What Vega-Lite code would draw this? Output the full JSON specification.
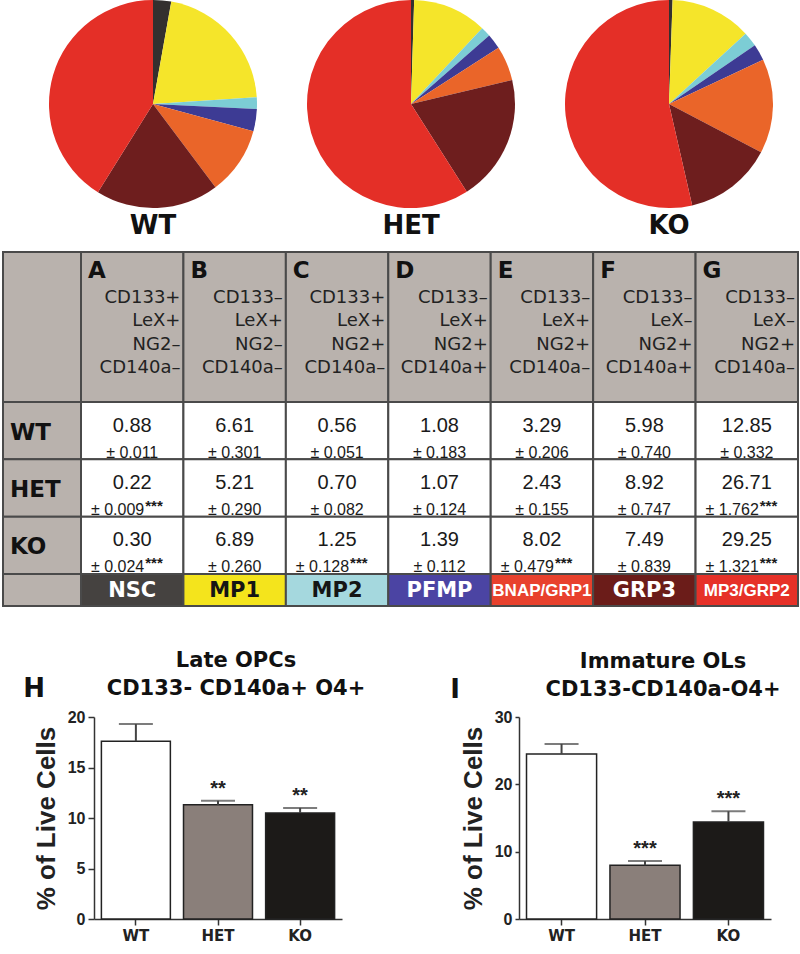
{
  "$schema": "https://vega.github.io/schema/vega-lite/v6.json",
  "background": "white",
  "padding": {"left": 2, "top": 0, "right": 0, "bottom": 0},
  "config": {"view": {"stroke": null}, "font": "Liberation Sans"},
  "datasets": {
    "pops": [
      {"genotype": "WT", "col": "A", "population": "NSC", "mean": 0.88, "sd": "± 0.011", "sig": ""},
      {"genotype": "WT", "col": "B", "population": "MP1", "mean": 6.61, "sd": "± 0.301", "sig": ""},
      {"genotype": "WT", "col": "C", "population": "MP2", "mean": 0.56, "sd": "± 0.051", "sig": ""},
      {"genotype": "WT", "col": "D", "population": "PFMP", "mean": 1.08, "sd": "± 0.183", "sig": ""},
      {"genotype": "WT", "col": "E", "population": "BNAP/GRP1", "mean": 3.29, "sd": "± 0.206", "sig": ""},
      {"genotype": "WT", "col": "F", "population": "GRP3", "mean": 5.98, "sd": "± 0.740", "sig": ""},
      {"genotype": "WT", "col": "G", "population": "MP3/GRP2", "mean": 12.85, "sd": "± 0.332", "sig": ""},
      {"genotype": "HET", "col": "A", "population": "NSC", "mean": 0.22, "sd": "± 0.009", "sig": "***"},
      {"genotype": "HET", "col": "B", "population": "MP1", "mean": 5.21, "sd": "± 0.290", "sig": ""},
      {"genotype": "HET", "col": "C", "population": "MP2", "mean": 0.70, "sd": "± 0.082", "sig": ""},
      {"genotype": "HET", "col": "D", "population": "PFMP", "mean": 1.07, "sd": "± 0.124", "sig": ""},
      {"genotype": "HET", "col": "E", "population": "BNAP/GRP1", "mean": 2.43, "sd": "± 0.155", "sig": ""},
      {"genotype": "HET", "col": "F", "population": "GRP3", "mean": 8.92, "sd": "± 0.747", "sig": ""},
      {"genotype": "HET", "col": "G", "population": "MP3/GRP2", "mean": 26.71, "sd": "± 1.762", "sig": "***"},
      {"genotype": "KO", "col": "A", "population": "NSC", "mean": 0.30, "sd": "± 0.024", "sig": "***"},
      {"genotype": "KO", "col": "B", "population": "MP1", "mean": 6.89, "sd": "± 0.260", "sig": ""},
      {"genotype": "KO", "col": "C", "population": "MP2", "mean": 1.25, "sd": "± 0.128", "sig": "***"},
      {"genotype": "KO", "col": "D", "population": "PFMP", "mean": 1.39, "sd": "± 0.112", "sig": ""},
      {"genotype": "KO", "col": "E", "population": "BNAP/GRP1", "mean": 8.02, "sd": "± 0.479", "sig": "***"},
      {"genotype": "KO", "col": "F", "population": "GRP3", "mean": 7.49, "sd": "± 0.839", "sig": ""},
      {"genotype": "KO", "col": "G", "population": "MP3/GRP2", "mean": 29.25, "sd": "± 1.321", "sig": "***"}
    ],
    "header": [
      {"col": "A", "population": "NSC", "markers": "CD133+\nLeX+\nNG2–\nCD140a–"},
      {"col": "B", "population": "MP1", "markers": "CD133–\nLeX+\nNG2–\nCD140a–"},
      {"col": "C", "population": "MP2", "markers": "CD133+\nLeX+\nNG2+\nCD140a–"},
      {"col": "D", "population": "PFMP", "markers": "CD133–\nLeX+\nNG2+\nCD140a+"},
      {"col": "E", "population": "BNAP/GRP1", "markers": "CD133–\nLeX+\nNG2+\nCD140a–"},
      {"col": "F", "population": "GRP3", "markers": "CD133–\nLeX–\nNG2+\nCD140a+"},
      {"col": "G", "population": "MP3/GRP2", "markers": "CD133–\nLeX–\nNG2+\nCD140a–"}
    ],
    "bars": [
      {"chart": "H", "g": "WT", "mean": 17.6, "upper": 19.3, "stars": ""},
      {"chart": "H", "g": "HET", "mean": 11.3, "upper": 11.7, "stars": "**"},
      {"chart": "H", "g": "KO", "mean": 10.5, "upper": 11.0, "stars": "**"},
      {"chart": "I", "g": "WT", "mean": 24.5, "upper": 26.0, "stars": ""},
      {"chart": "I", "g": "HET", "mean": 8.0, "upper": 8.6, "stars": "***"},
      {"chart": "I", "g": "KO", "mean": 14.4, "upper": 16.0, "stars": "***"}
    ]
  },
  "resolve": {"scale": {"color": "independent", "fill": "independent"}},
  "spacing": 43,
  "vconcat": [
    {
      "spacing": 12,
      "vconcat": [
        {
          "spacing": 0,
          "hconcat": [
            {"width": 21, "height": 208, "data": {"values": []}, "mark": "point", "encoding": {}},
            {
              "data": {"name": "pops"},
              "spacing": 0,
              "facet": {
                "column": {
                  "field": "genotype", "type": "nominal", "sort": ["WT", "HET", "KO"], "title": null,
                  "header": {"labelOrient": "bottom", "labelFont": "DejaVu Sans", "labelFontWeight": "bold", "labelFontSize": 26, "labelColor": "#111", "labelPadding": 5}
                }
              },
              "spec": {
                "width": 258, "height": 208,
                "mark": {"type": "arc", "radius": 104},
                "encoding": {
                  "theta": {"field": "mean", "type": "quantitative", "stack": true},
                  "color": {
                    "field": "population", "type": "nominal", "legend": null,
                    "scale": {
                      "domain": ["NSC", "MP1", "MP2", "PFMP", "BNAP/GRP1", "GRP3", "MP3/GRP2"],
                      "range": ["#34302f", "#f5e52a", "#7ccdd5", "#3d3b94", "#ea6529", "#6e1e1e", "#e42f27"]
                    }
                  },
                  "order": {"field": "col", "type": "ordinal", "sort": "ascending"}
                }
              }
            }
          ]
        },
        {
          "columns": 2,
          "spacing": 0,
          "align": "each",
          "bounds": "flush",
          "concat": [
            {
              "width": 78, "height": 150,
              "data": {"values": [{"k": "h"}]},
              "mark": {"type": "rect", "fill": "#b9b2ad", "stroke": "#4a4a4a", "strokeWidth": 2},
              "encoding": {"x": {"field": "k", "type": "nominal", "axis": null, "scale": {"paddingInner": 0, "paddingOuter": 0}}}
            },
            {
              "width": 717, "height": 150,
              "data": {"name": "header"},
              "encoding": {"x": {"field": "col", "type": "nominal", "axis": null, "scale": {"paddingInner": 0, "paddingOuter": 0}}},
              "layer": [
                {"mark": {"type": "rect", "fill": "#b9b2ad", "stroke": "#4a4a4a", "strokeWidth": 2}},
                {
                  "mark": {"type": "text", "font": "DejaVu Sans", "fontWeight": "bold", "fontSize": 23, "align": "left", "dx": 7, "dy": -56, "color": "#111"},
                  "encoding": {"x": {"field": "col", "type": "nominal", "bandPosition": 0}, "text": {"field": "col"}}
                },
                {
                  "mark": {"type": "text", "font": "DejaVu Sans", "fontSize": 18, "align": "right", "dx": -3, "dy": -29, "lineBreak": "\n", "lineHeight": 23.3, "color": "#222"},
                  "encoding": {"x": {"field": "col", "type": "nominal", "bandPosition": 1}, "text": {"field": "markers"}}
                }
              ]
            },
            {
              "width": 78, "height": 172,
              "data": {"name": "pops"},
              "transform": [{"filter": "datum.col === 'A'"}],
              "encoding": {"y": {"field": "genotype", "type": "nominal", "sort": ["WT", "HET", "KO"], "axis": null, "scale": {"paddingInner": 0, "paddingOuter": 0}}},
              "layer": [
                {"mark": {"type": "rect", "fill": "#b9b2ad", "stroke": "#4a4a4a", "strokeWidth": 2}},
                {
                  "mark": {"type": "text", "font": "DejaVu Sans", "fontWeight": "bold", "fontSize": 23, "align": "left", "dx": -32, "dy": 2, "color": "#111"},
                  "encoding": {"text": {"field": "genotype"}}
                }
              ]
            },
            {
              "width": 717, "height": 172,
              "data": {"name": "pops"},
              "encoding": {
                "x": {"field": "col", "type": "nominal", "axis": null, "scale": {"paddingInner": 0, "paddingOuter": 0}},
                "y": {"field": "genotype", "type": "nominal", "sort": ["WT", "HET", "KO"], "axis": null, "scale": {"paddingInner": 0, "paddingOuter": 0}}
              },
              "layer": [
                {"mark": {"type": "rect", "fill": "white", "stroke": "#4a4a4a", "strokeWidth": 2}},
                {
                  "mark": {"type": "text", "fontSize": 20, "dy": -5, "color": "#1a1a1a"},
                  "encoding": {"text": {"field": "mean", "type": "quantitative", "format": ".2f"}}
                },
                {
                  "transform": [{"filter": "datum.sig === ''"}],
                  "mark": {"type": "text", "fontSize": 16, "dy": 22, "color": "#1a1a1a"},
                  "encoding": {"text": {"field": "sd"}}
                },
                {
                  "transform": [{"filter": "datum.sig !== ''"}],
                  "mark": {"type": "text", "fontSize": 16, "dy": 22, "dx": 12, "align": "right", "color": "#1a1a1a"},
                  "encoding": {"text": {"field": "sd"}}
                },
                {
                  "transform": [{"filter": "datum.sig !== ''"}],
                  "mark": {"type": "text", "fontSize": 15, "fontWeight": "bold", "dy": 18, "dx": 13, "align": "left", "color": "#1a1a1a"},
                  "encoding": {"text": {"field": "sig"}}
                }
              ]
            },
            {
              "width": 78, "height": 32,
              "data": {"values": [{"k": "f"}]},
              "mark": {"type": "rect", "fill": "#b9b2ad", "stroke": "#4a4a4a", "strokeWidth": 2},
              "encoding": {"x": {"field": "k", "type": "nominal", "axis": null, "scale": {"paddingInner": 0, "paddingOuter": 0}}}
            },
            {
              "width": 717, "height": 32,
              "data": {"name": "header"},
              "encoding": {"x": {"field": "col", "type": "nominal", "axis": null, "scale": {"paddingInner": 0, "paddingOuter": 0}}},
              "layer": [
                {
                  "mark": {"type": "rect", "stroke": "#4a4a4a", "strokeWidth": 2},
                  "encoding": {
                    "fill": {
                      "field": "population", "type": "nominal", "legend": null,
                      "scale": {
                        "domain": ["NSC", "MP1", "MP2", "PFMP", "BNAP/GRP1", "GRP3", "MP3/GRP2"],
                        "range": ["#454240", "#f4e41c", "#a5d8de", "#4b44a3", "#e8412d", "#6b1c19", "#e63128"]
                      }
                    }
                  }
                },
                {
                  "transform": [{"filter": "datum.population === 'MP1' || datum.population === 'MP2'"}],
                  "mark": {"type": "text", "font": "DejaVu Sans", "fontWeight": "bold", "fontSize": 21, "color": "#151515", "dy": 1},
                  "encoding": {"text": {"field": "population"}}
                },
                {
                  "transform": [{"filter": "datum.population === 'NSC' || datum.population === 'PFMP' || datum.population === 'GRP3'"}],
                  "mark": {"type": "text", "font": "DejaVu Sans", "fontWeight": "bold", "fontSize": 21, "color": "white", "dy": 1},
                  "encoding": {"text": {"field": "population"}}
                },
                {
                  "transform": [{"filter": "datum.population === 'BNAP/GRP1' || datum.population === 'MP3/GRP2'"}],
                  "mark": {"type": "text", "font": "Liberation Sans", "fontWeight": "bold", "fontSize": 17, "color": "white", "dy": 1},
                  "encoding": {"text": {"field": "population"}}
                }
              ]
            }
          ]
        }
      ]
    },
    {
      "spacing": 0,
      "hconcat": [
        {"width": 20, "height": 10, "data": {"values": []}, "mark": "point", "encoding": {}},
        {
          "spacing": 84,
          "hconcat": [
            {
              "title": {"text": "H", "anchor": "start", "font": "DejaVu Sans", "fontWeight": "bold", "fontSize": 26, "color": "#111", "offset": -52, "dx": -10},
              "hconcat": [
                {
                  "width": 248, "height": 202,
                  "title": {"text": ["Late OPCs", "CD133- CD140a+ O4+"], "font": "DejaVu Sans", "fontWeight": "bold", "fontSize": 21, "lineHeight": 28, "color": "#111", "anchor": "middle", "frame": "group", "dx": 18, "offset": 3},
                  "data": {"name": "bars"},
                  "transform": [{"filter": "datum.chart === 'H'"}],
                  "encoding": {
                    "x": {
                      "field": "g", "type": "nominal", "sort": ["WT", "HET", "KO"],
                      "scale": {"paddingInner": 0.16, "paddingOuter": 0.09},
                      "axis": {"title": null, "labelAngle": 0, "labelFont": "DejaVu Sans", "labelFontWeight": "bold", "labelFontSize": 15, "labelColor": "#222", "labelPadding": 3, "domainColor": "#333", "domainWidth": 1.5, "tickColor": "#333", "tickWidth": 1.5, "tickSize": 6}
                    }
                  },
                  "layer": [
                    {
                      "mark": {"type": "bar", "stroke": "#222", "strokeWidth": 1.5},
                      "encoding": {
                        "y": {
                          "field": "mean", "type": "quantitative", "scale": {"domain": [0, 20]},
                          "axis": {"values": [0, 5, 10, 15, 20], "grid": false, "title": "% of Live Cells", "titleFont": "Liberation Sans", "titleFontWeight": "bold", "titleFontSize": 26, "titleColor": "#222", "titlePadding": 8, "labelFont": "Liberation Sans", "labelFontWeight": "bold", "labelFontSize": 16, "labelColor": "#222", "labelPadding": 3, "domainColor": "#333", "domainWidth": 1.5, "tickColor": "#333", "tickWidth": 1.5, "tickSize": 6}
                        },
                        "fill": {"field": "g", "type": "nominal", "legend": null, "scale": {"domain": ["WT", "HET", "KO"], "range": ["#ffffff", "#8a7f7a", "#1c1a18"]}}
                      }
                    },
                    {
                      "mark": {"type": "rule", "color": "#444", "strokeWidth": 2},
                      "encoding": {"y": {"field": "mean", "type": "quantitative"}, "y2": {"field": "upper"}}
                    },
                    {
                      "mark": {"type": "tick", "color": "#444", "thickness": 2, "size": 34},
                      "encoding": {"y": {"field": "upper", "type": "quantitative"}}
                    },
                    {
                      "mark": {"type": "text", "font": "Liberation Sans", "fontWeight": "bold", "fontSize": 20, "dy": -12, "color": "#222"},
                      "encoding": {"y": {"field": "upper", "type": "quantitative"}, "text": {"field": "stars"}}
                    }
                  ]
                }
              ]
            },
            {
              "title": {"text": "I", "anchor": "start", "font": "DejaVu Sans", "fontWeight": "bold", "fontSize": 26, "color": "#111", "offset": -52, "dx": -10},
              "hconcat": [
                {
                  "width": 252, "height": 202,
                  "title": {"text": ["Immature OLs", "CD133-CD140a-O4+"], "font": "DejaVu Sans", "fontWeight": "bold", "fontSize": 21, "lineHeight": 28, "color": "#111", "anchor": "middle", "frame": "group", "dx": 18, "offset": 9},
                  "data": {"name": "bars"},
                  "transform": [{"filter": "datum.chart === 'I'"}],
                  "encoding": {
                    "x": {
                      "field": "g", "type": "nominal", "sort": ["WT", "HET", "KO"],
                      "scale": {"paddingInner": 0.16, "paddingOuter": 0.09},
                      "axis": {"title": null, "labelAngle": 0, "labelFont": "DejaVu Sans", "labelFontWeight": "bold", "labelFontSize": 15, "labelColor": "#222", "labelPadding": 3, "domainColor": "#333", "domainWidth": 1.5, "tickColor": "#333", "tickWidth": 1.5, "tickSize": 6}
                    }
                  },
                  "layer": [
                    {
                      "mark": {"type": "bar", "stroke": "#222", "strokeWidth": 1.5},
                      "encoding": {
                        "y": {
                          "field": "mean", "type": "quantitative", "scale": {"domain": [0, 30]},
                          "axis": {"values": [0, 10, 20, 30], "grid": false, "title": "% of Live Cells", "titleFont": "Liberation Sans", "titleFontWeight": "bold", "titleFontSize": 26, "titleColor": "#222", "titlePadding": 8, "labelFont": "Liberation Sans", "labelFontWeight": "bold", "labelFontSize": 16, "labelColor": "#222", "labelPadding": 3, "domainColor": "#333", "domainWidth": 1.5, "tickColor": "#333", "tickWidth": 1.5, "tickSize": 4}
                        },
                        "fill": {"field": "g", "type": "nominal", "legend": null, "scale": {"domain": ["WT", "HET", "KO"], "range": ["#ffffff", "#8a7f7a", "#1c1a18"]}}
                      }
                    },
                    {
                      "mark": {"type": "rule", "color": "#444", "strokeWidth": 2},
                      "encoding": {"y": {"field": "mean", "type": "quantitative"}, "y2": {"field": "upper"}}
                    },
                    {
                      "mark": {"type": "tick", "color": "#444", "thickness": 2, "size": 34},
                      "encoding": {"y": {"field": "upper", "type": "quantitative"}}
                    },
                    {
                      "mark": {"type": "text", "font": "Liberation Sans", "fontWeight": "bold", "fontSize": 20, "dy": -12, "color": "#222"},
                      "encoding": {"y": {"field": "upper", "type": "quantitative"}, "text": {"field": "stars"}}
                    }
                  ]
                }
              ]
            }
          ]
        }
      ]
    }
  ]
}
